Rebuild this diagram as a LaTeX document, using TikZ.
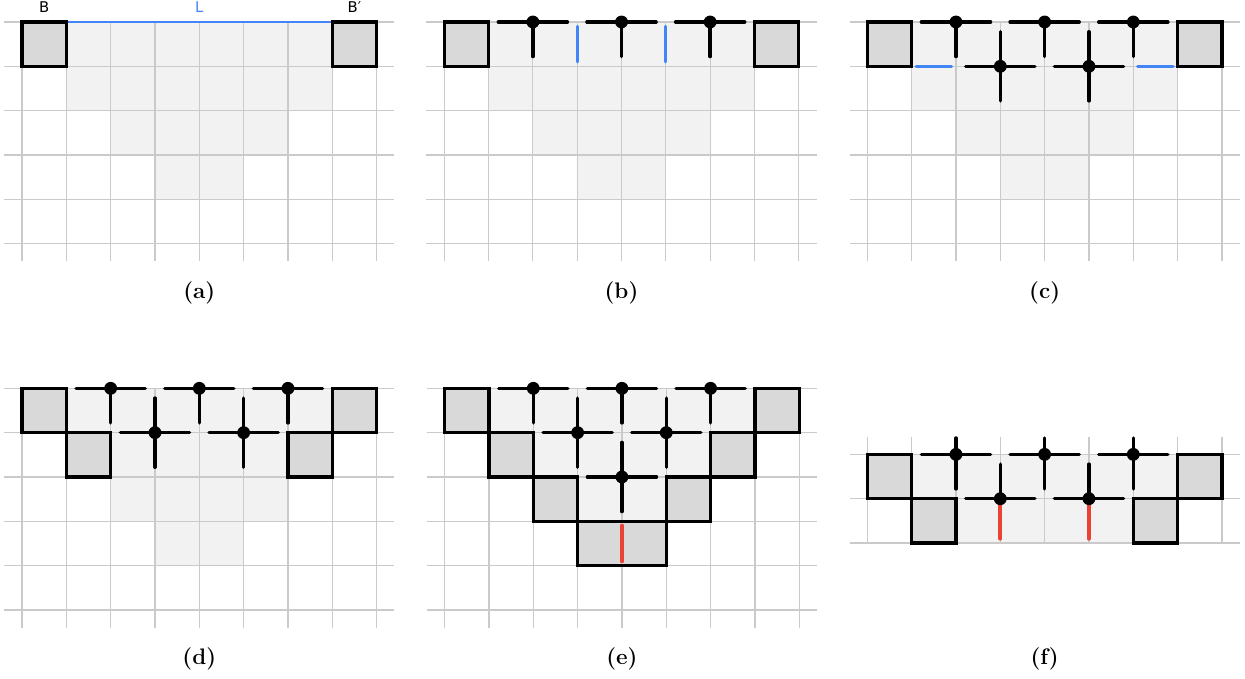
\documentclass[tikz,border=0pt]{standalone}
\usepackage{fontspec}
\usepackage{tikz}
\newfontfamily\tagfont{DejaVu Sans}
\definecolor{boxgray}{HTML}{D9D9D9}
\definecolor{lightshade}{HTML}{F2F2F2}
\definecolor{gridgray}{HTML}{CACACA}
\definecolor{lineblue}{HTML}{4285F4}
\definecolor{linered}{HTML}{EA4335}
\tikzset{
    gridln/.style={gridgray, line width=0.8pt},
    cellbox/.style={fill=boxgray, draw=black, line width=2.1pt},
    arm/.style={black, line width=2.2pt, line cap=round},
    bluearm/.style={lineblue, line width=2.1pt, line cap=round},
    redarm/.style={linered, line width=2.7pt, line cap=round},
    caption/.style={font=\Large\bfseries},
    tag/.style={font=\tagfont\fontsize{9.5}{11}\selectfont, inner sep=0pt}
}

\begin{document}
\begin{tikzpicture}
    \useasboundingbox (0,0) rectangle (28.085,-15.317);
    % (a)
    \begin{scope}[shift={(0.496,-0.496)}, yscale=-1]
        \foreach \r/\a/\b in {0/1/7,1/1/7,2/2/6,3/3/5} \fill[lightshade] (\a,\r) rectangle (\b,\r+1);
        \foreach \y in {0,...,5} \draw[gridln] (-0.4,\y)--(8.4,\y);
        \foreach \x in {0,...,8} \draw[gridln] (\x,0)--(\x,5.4);
        \draw[lineblue, line width=1.9pt] (1,0)--(7,0);
        \foreach \c/\r in {0/0,7/0} \draw[cellbox] (\c,\r) rectangle ++(1,1);
        \node[tag] (tagB) at (0.5,-0.33) {B};
        \node[tag, text=lineblue] (tagL) at (4,-0.33) {L};
        \node[tag] (tagBp) at (7.5,-0.33) {B′};
    \end{scope}
    % (b)
    \begin{scope}[shift={(10.02,-0.496)}, yscale=-1]
        \foreach \r/\a/\b in {0/1/7,1/1/7,2/2/6,3/3/5} \fill[lightshade] (\a,\r) rectangle (\b,\r+1);
        \foreach \y in {0,...,5} \draw[gridln] (-0.4,\y)--(8.4,\y);
        \foreach \x in {0,...,8} \draw[gridln] (\x,0)--(\x,5.4);
        \foreach \c/\r in {0/0,7/0} \draw[cellbox] (\c,\r) rectangle ++(1,1);
        \foreach \x in {3,5} \draw[bluearm] (\x,0.1)--(\x,0.9);
        \foreach \x in {2,4,6}{
            \draw[arm] (\x-0.78,0)--(\x+0.78,0) (\x,0)--(\x,0.78);
            \fill (\x,0) circle (0.145);
        }
    \end{scope}
    % (c)
    \begin{scope}[shift={(19.565,-0.496)}, yscale=-1]
        \foreach \r/\a/\b in {0/1/7,1/1/7,2/2/6,3/3/5} \fill[lightshade] (\a,\r) rectangle (\b,\r+1);
        \foreach \y in {0,...,5} \draw[gridln] (-0.4,\y)--(8.4,\y);
        \foreach \x in {0,...,8} \draw[gridln] (\x,0)--(\x,5.4);
        \foreach \c/\r in {0/0,7/0} \draw[cellbox] (\c,\r) rectangle ++(1,1);
        \foreach \x in {1,6} \draw[bluearm] (\x+0.1,1)--(\x+0.9,1);
        \foreach \x in {2,4,6}{
            \draw[arm] (\x-0.78,0)--(\x+0.78,0) (\x,0)--(\x,0.78);
            \fill (\x,0) circle (0.145);
        }
        \foreach \x in {3,5}{
            \draw[arm] (\x-0.78,1)--(\x+0.78,1) (\x,0.22)--(\x,1.78);
            \fill (\x,1) circle (0.145);
        }
    \end{scope}
    % (d)
    \begin{scope}[shift={(0.496,-8.76)}, yscale=-1]
        \foreach \r/\a/\b in {0/1/7,1/2/6,2/2/6,3/3/5} \fill[lightshade] (\a,\r) rectangle (\b,\r+1);
        \foreach \y in {0,...,5} \draw[gridln] (-0.4,\y)--(8.4,\y);
        \foreach \x in {0,...,8} \draw[gridln] (\x,0)--(\x,5.4);
        \foreach \c/\r in {0/0,7/0,1/1,6/1} \draw[cellbox] (\c,\r) rectangle ++(1,1);
        \foreach \x in {2,4,6}{
            \draw[arm] (\x-0.78,0)--(\x+0.78,0) (\x,0)--(\x,0.78);
            \fill (\x,0) circle (0.145);
        }
        \foreach \x in {3,5}{
            \draw[arm] (\x-0.78,1)--(\x+0.78,1) (\x,0.22)--(\x,1.78);
            \fill (\x,1) circle (0.145);
        }
    \end{scope}
    % (e)
    \begin{scope}[shift={(10.03,-8.76)}, yscale=-1]
        \foreach \r/\a/\b in {0/1/7,1/2/6,2/3/5} \fill[lightshade] (\a,\r) rectangle (\b,\r+1);
        \foreach \y in {0,...,5} \draw[gridln] (-0.4,\y)--(8.4,\y);
        \foreach \x in {0,...,8} \draw[gridln] (\x,0)--(\x,5.4);
        \foreach \c/\r in {0/0,7/0,1/1,6/1,2/2,5/2} \draw[cellbox] (\c,\r) rectangle ++(1,1);
        \draw[cellbox] (3,3) rectangle (5,4);
        \draw[redarm] (4,3.1)--(4,3.9);
        \foreach \x in {2,4,6}{
            \draw[arm] (\x-0.78,0)--(\x+0.78,0) (\x,0)--(\x,0.78);
            \fill (\x,0) circle (0.145);
        }
        \foreach \x/\y in {3/1,5/1,4/2}{
            \draw[arm] (\x-0.78,\y)--(\x+0.78,\y) (\x,\y-0.78)--(\x,\y+0.78);
            \fill (\x,\y) circle (0.145);
        }
    \end{scope}
    % (f)
    \begin{scope}[shift={(19.565,-10.25)}, yscale=-1]
        \foreach \r/\a/\b in {0/1/7,1/2/6} \fill[lightshade] (\a,\r) rectangle (\b,\r+1);
        \foreach \y in {0,...,2} \draw[gridln] (-0.4,\y)--(8.4,\y);
        \foreach \x in {0,...,8} \draw[gridln] (\x,-0.4)--(\x,2);
        \foreach \c/\r in {0/0,7/0,1/1,6/1} \draw[cellbox] (\c,\r) rectangle ++(1,1);
        \foreach \x in {2,4,6}{
            \draw[arm] (\x-0.78,0)--(\x+0.78,0) (\x,-0.37)--(\x,0.78);
            \fill (\x,0) circle (0.145);
        }
        \foreach \x in {3,5}{
            \draw[redarm] (\x,1)--(\x,1.9);
            \draw[arm] (\x-0.78,1)--(\x+0.78,1) (\x,0.22)--(\x,1);
            \fill (\x,1) circle (0.145);
        }
    \end{scope}
    % captions
    \node[caption] (capa) at (4.496,-6.61) {(a)};
    \node[caption] (capb) at (14.02,-6.61) {(b)};
    \node[caption] (capc) at (23.565,-6.61) {(c)};
    \node[caption] (capd) at (4.496,-14.866) {(d)};
    \node[caption] (cape) at (14.03,-14.866) {(e)};
    \node[caption] (capf) at (23.565,-14.866) {(f)};
\end{tikzpicture}
\end{document}
